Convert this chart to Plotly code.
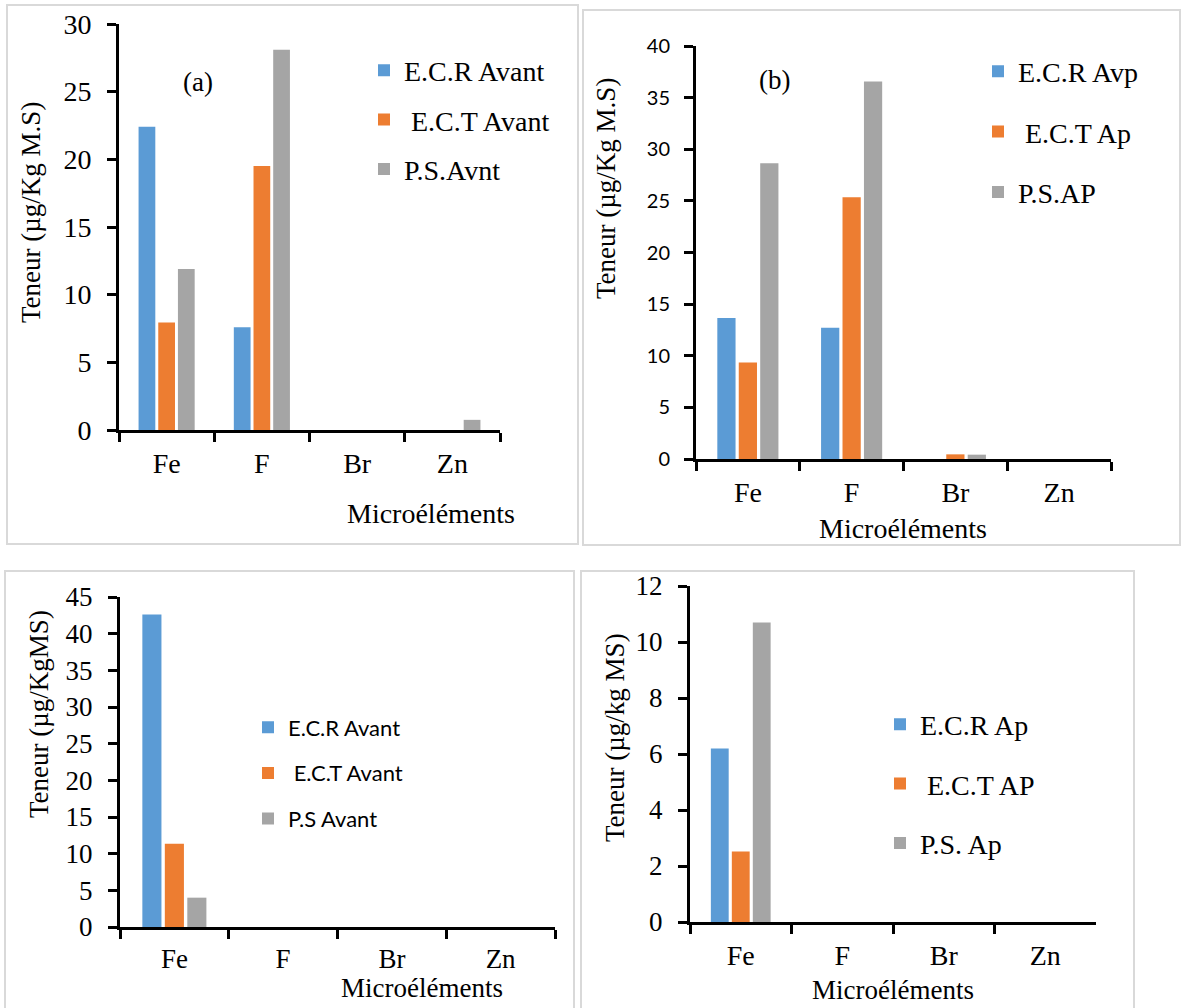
import plotly.graph_objects as go

# -----------------------------
# Data
# -----------------------------
elements = ["Fe", "F", "Br", "Zn"]

a_names = ["E.C.R Avant", "\u00a0E.C.T Avant", "P.S.Avnt"]
a_ecr = [22.4, 7.6, 0, 0]
a_ect = [7.95, 19.5, 0, 0]
a_ps = [11.9, 28.1, 0, 0.75]

b_names = ["E.C.R Avp", "\u00a0E.C.T Ap", "P.S.AP"]
b_ecr = [13.65, 12.7, 0, 0]
b_ect = [9.35, 25.35, 0.45, 0]
b_ps = [28.65, 36.55, 0.42, 0]

c_names = ["E.C.R Avant", "\u00a0E.C.T Avant", "P.S Avant"]
c_ecr = [42.6, 0, 0, 0]
c_ect = [11.35, 0, 0, 0]
c_ps = [4.0, 0, 0, 0]

d_names = ["E.C.R Ap", "\u00a0E.C.T AP", "P.S. Ap"]
d_ecr = [6.2, 0, 0, 0]
d_ect = [2.52, 0, 0, 0]
d_ps = [10.7, 0, 0, 0]

colors = ["#5b9bd5", "#ed7d31", "#a5a5a5"]

# -----------------------------
# Page geometry (pixels -> paper)
# -----------------------------
W, H = 1184, 1008
SERIF = "Liberation Serif, Times New Roman, serif"
SANS = "Lato, Carlito, sans-serif"


def px(x):
    return x / W


def py(y):
    return 1 - y / H


panels = [
    dict(names=a_names, values=[a_ecr, a_ect, a_ps], ymax=30, dtick=5,
         xpx=(119, 500), ypx=(430, 24), ytitle="Teneur (µg/Kg M.S)",
         ytick_font=dict(family=SERIF, size=28), xtick_font=dict(family=SERIF, size=28),
         leg=dict(x=364, y=120, gap=10, font=dict(family=SERIF, size=28)),
         ytitle_pos=(31, 213), xtitle_pos=(431, 513), xtitle_size=28,
         label="(a)", label_pos=(198, 82),
         border=(7, 5, 578, 544)),
    dict(names=b_names, values=[b_ecr, b_ect, b_ps], ymax=40, dtick=5,
         xpx=(696, 1111), ypx=(459, 46), ytitle="Teneur (µg/Kg M.S)",
         ytick_font=dict(family=SANS, size=20), xtick_font=dict(family=SERIF, size=28),
         leg=dict(x=978, y=132, gap=21, font=dict(family=SERIF, size=28)),
         ytitle_pos=(606, 189), xtitle_pos=(903, 528), xtitle_size=28,
         label="(b)", label_pos=(774, 80),
         border=(583, 10, 1180, 545)),
    dict(names=c_names, values=[c_ecr, c_ect, c_ps], ymax=45, dtick=5,
         xpx=(120, 555), ypx=(927, 597), ytitle="Teneur (µg/KgMS)",
         ytick_font=dict(family=SERIF, size=27), xtick_font=dict(family=SERIF, size=27),
         leg=dict(x=248, y=773, gap=14, font=dict(family=SANS, size=22)),
         ytitle_pos=(39, 714), xtitle_pos=(422, 988), xtitle_size=27,
         label=None, label_pos=None,
         border=(5, 571, 574, 1012)),
    dict(names=d_names, values=[d_ecr, d_ect, d_ps], ymax=12, dtick=2,
         xpx=(690, 1096), ypx=(922, 586), ytitle="Teneur (µg/kg MS)",
         ytick_font=dict(family=SERIF, size=27), xtick_font=dict(family=SERIF, size=28),
         leg=dict(x=880, y=784, gap=20, font=dict(family=SERIF, size=28)),
         ytitle_pos=(615, 738), xtitle_pos=(893, 990), xtitle_size=27,
         label=None, label_pos=None,
         border=(581, 571, 1134, 1012)),
]

fig = go.Figure()
annotations = []
shapes = []

for i, p in enumerate(panels, start=1):
    sfx = "" if i == 1 else str(i)
    for name, vals, col in zip(p["names"], p["values"], colors):
        fig.add_trace(go.Bar(
            x=elements, y=vals, name=name,
            marker=dict(color=col, line=dict(width=0)),
            xaxis="x" + sfx, yaxis="y" + sfx,
            legend="legend" + sfx, legendgroup=f"{i}-{name}",
            hoverinfo="x+y+name",
        ))

    x0, x1 = p["xpx"]
    y0, y1 = p["ypx"]
    fig.layout["xaxis" + sfx] = dict(
        domain=[px(x0), px(x1)], anchor="y" + sfx, range=[-0.5, 3.5],
        showline=True, linecolor="black", linewidth=3,
        ticks="outside", ticklen=9, tickwidth=3, tickcolor="black",
        tickson="boundaries", showgrid=False, zeroline=False, automargin=False,
        tickfont=dict(color="black", **p["xtick_font"]), ticklabelstandoff=6,
    )
    fig.layout["yaxis" + sfx] = dict(
        domain=[py(y0), py(y1)], anchor="x" + sfx, range=[0, p["ymax"]],
        dtick=p["dtick"], tick0=0,
        showline=True, linecolor="black", linewidth=3,
        ticks="outside", ticklen=9, tickwidth=3, tickcolor="black",
        showgrid=False, zeroline=False, automargin=False,
        tickfont=dict(color="black", **p["ytick_font"]), ticklabelstandoff=10,
    )
    lg = p["leg"]
    fig.layout["legend" + sfx] = dict(
        x=px(lg["x"]), y=py(lg["y"]), xanchor="left", yanchor="middle",
        xref="paper", yref="paper", bgcolor="rgba(0,0,0,0)",
        font=dict(color="black", **lg["font"]), tracegroupgap=lg["gap"],
        orientation="v",
    )

    tx, ty = p["ytitle_pos"]
    annotations.append(dict(
        text=p["ytitle"], x=px(tx), y=py(ty), xref="paper", yref="paper",
        textangle=-90, showarrow=False, xanchor="center", yanchor="middle",
        font=dict(family=SERIF, size=27, color="black"),
    ))
    tx, ty = p["xtitle_pos"]
    annotations.append(dict(
        text="Microéléments", x=px(tx), y=py(ty), xref="paper", yref="paper",
        showarrow=False, xanchor="center", yanchor="middle",
        font=dict(family=SERIF, size=p["xtitle_size"], color="black"),
    ))
    if p["label"]:
        lx, ly = p["label_pos"]
        annotations.append(dict(
            text=p["label"], x=px(lx), y=py(ly), xref="paper", yref="paper",
            showarrow=False, xanchor="center", yanchor="middle",
            font=dict(family=SERIF, size=27, color="black"),
        ))

    bx0, by0, bx1, by1 = p["border"]
    shapes.append(dict(
        type="rect", xref="paper", yref="paper",
        x0=px(bx0), x1=px(bx1), y0=py(by1), y1=py(by0),
        line=dict(color="#d9d9d9", width=2), fillcolor="rgba(0,0,0,0)", layer="below",
    ))

fig.update_layout(
    width=W, height=H,
    margin=dict(l=0, r=0, t=0, b=0, autoexpand=False),
    paper_bgcolor="white", plot_bgcolor="white",
    barmode="group", bargap=0.38, bargroupgap=0.15,
    annotations=annotations, shapes=shapes,
    font=dict(family=SERIF, color="black"),
)

# pin the graph to the top-left corner of the window (no body margin)
pin_js = (
    "var gd=document.getElementById('{plot_id}');"
    "document.body.style.margin='0';document.body.style.overflow='hidden';"
    "gd.style.position='fixed';gd.style.left='0px';gd.style.top='0px';"
)

fig.write_html("out.html", post_script=pin_js, config={"displayModeBar": False})
